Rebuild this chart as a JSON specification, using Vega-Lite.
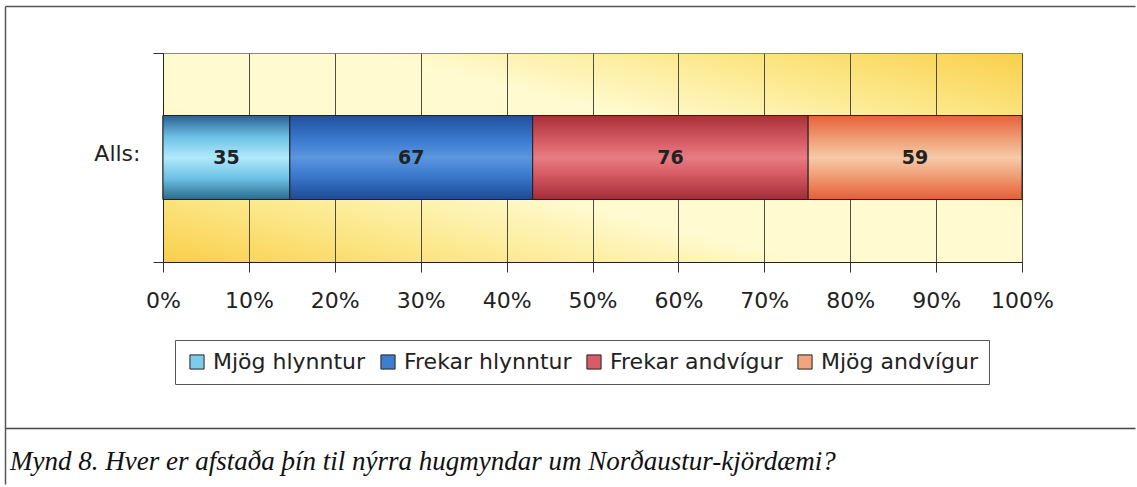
{
  "$schema": "https://vega.github.io/schema/vega-lite/v6.json",
  "padding": {"left": 4, "top": 6, "right": 0, "bottom": 0},
  "background": "white",
  "config": {"font": "DejaVu Sans"},
  "datasets": {
    "answers": [
      {"group": "Alls:", "answer": "Mjög hlynntur", "count": 35, "rank": 1},
      {"group": "Alls:", "answer": "Frekar hlynntur", "count": 67, "rank": 2},
      {"group": "Alls:", "answer": "Frekar andvígur", "count": 76, "rank": 3},
      {"group": "Alls:", "answer": "Mjög andvígur", "count": 59, "rank": 4}
    ],
    "caption": [
      {"text": "Mynd 8. Hver er afstaða þín til nýrra hugmyndar um Norðaustur-kjördæmi?"}
    ]
  },
  "width": 859,
  "height": 209,
  "data": {"name": "answers"},
  "view": {
    "stroke": "#8a8a8a",
    "strokeWidth": 1,
    "fill": {
      "gradient": "linear", "x1": 0, "y1": 1, "x2": 1, "y2": 0,
      "stops": [
        {"offset": 0, "color": "#f9cf4a"},
        {"offset": 0.2, "color": "#fce98e"},
        {"offset": 0.38, "color": "#fffad0"},
        {"offset": 0.62, "color": "#fffad0"},
        {"offset": 0.8, "color": "#fce98e"},
        {"offset": 1, "color": "#f9cf4a"}
      ]
    }
  },
  "resolve": {"scale": {"x": "independent", "y": "independent"}, "axis": {"x": "independent", "y": "independent"}},
  "layer": [
    {
      "encoding": {
        "y": {
          "field": "group", "type": "nominal", "title": null,
          "scale": {"paddingInner": 0, "paddingOuter": 0},
          "axis": {
            "orient": "left",
            "domainColor": "#222", "tickColor": "#333", "tickSize": 10, "tickBand": "extent",
            "labelFontSize": 22, "labelColor": "#222", "labelPadding": 13, "labelOffset": -4,
            "minExtent": 159, "grid": false
          }
        }
      },
      "layer": [
        {
          "mark": {"type": "bar", "size": 84, "stroke": "#222", "strokeWidth": 1},
          "encoding": {
            "x": {
              "field": "count", "type": "quantitative", "stack": "normalize", "title": null,
              "scale": {"domain": [0, 1], "nice": false},
              "axis": {
                "orient": "bottom",
                "values": [0, 0.1, 0.2, 0.3, 0.4, 0.5, 0.6, 0.7, 0.8, 0.9, 1],
                "format": ".0%", "grid": true, "gridColor": "#4d4d40", "gridOpacity": 1,
                "domainColor": "#222", "tickColor": "#333", "tickSize": 10,
                "labelFontSize": 22, "labelColor": "#222", "labelPadding": 18, "labelFlush": false
              }
            },
            "color": {
              "field": "answer", "type": "nominal",
              "scale": {
                "domain": ["Mjög hlynntur", "Frekar hlynntur", "Frekar andvígur", "Mjög andvígur"],
                "range": ["#7dcdea", "#3f7dd0", "#d85c66", "#f2a47c"]
              },
              "legend": {
                "title": null, "orient": "none", "legendX": 12, "legendY": 287,
                "direction": "horizontal",
                "strokeColor": "#555", "fillColor": "white", "padding": 11,
                "labelFontSize": 22, "labelColor": "#222", "labelLimit": 400,
                "symbolType": "square", "symbolSize": 200, "symbolStrokeColor": "#222",
                "symbolStrokeWidth": 1, "symbolOpacity": 1, "columnPadding": 11, "labelOffset": 5
              }
            },
            "order": {"field": "rank", "type": "quantitative"}
          }
        },
        {
          "transform": [
            {"stack": "count", "groupby": ["group"], "sort": [{"field": "rank", "order": "ascending"}], "offset": "normalize", "as": ["x0", "x1"]},
            {"filter": "datum.answer === 'Mjög hlynntur'"}
          ],
          "mark": {"type": "bar", "size": 84, "stroke": "#222", "strokeWidth": 1,
            "fill": {"gradient": "linear", "x1": 0, "y1": 0, "x2": 0, "y2": 1, "stops": [
              {"offset": 0, "color": "#2a5f95"}, {"offset": 0.25, "color": "#6cc0e4"},
              {"offset": 0.5, "color": "#b0eafb"}, {"offset": 0.75, "color": "#6cc0e4"},
              {"offset": 1, "color": "#2a6a8e"}]}},
          "encoding": {
            "x": {"field": "x0", "type": "quantitative", "title": null},
            "x2": {"field": "x1"}
          }
        },
        {
          "transform": [
            {"stack": "count", "groupby": ["group"], "sort": [{"field": "rank", "order": "ascending"}], "offset": "normalize", "as": ["x0", "x1"]},
            {"filter": "datum.answer === 'Frekar hlynntur'"}
          ],
          "mark": {"type": "bar", "size": 84, "stroke": "#222", "strokeWidth": 1,
            "fill": {"gradient": "linear", "x1": 0, "y1": 0, "x2": 0, "y2": 1, "stops": [
              {"offset": 0, "color": "#1f4f9e"}, {"offset": 0.3, "color": "#3d7bd0"},
              {"offset": 0.5, "color": "#5b96de"}, {"offset": 0.7, "color": "#3d7bd0"},
              {"offset": 1, "color": "#1d4a96"}]}},
          "encoding": {
            "x": {"field": "x0", "type": "quantitative", "title": null},
            "x2": {"field": "x1"}
          }
        },
        {
          "transform": [
            {"stack": "count", "groupby": ["group"], "sort": [{"field": "rank", "order": "ascending"}], "offset": "normalize", "as": ["x0", "x1"]},
            {"filter": "datum.answer === 'Frekar andvígur'"}
          ],
          "mark": {"type": "bar", "size": 84, "stroke": "#222", "strokeWidth": 1,
            "fill": {"gradient": "linear", "x1": 0, "y1": 0, "x2": 0, "y2": 1, "stops": [
              {"offset": 0, "color": "#a8303a"}, {"offset": 0.3, "color": "#d65a64"},
              {"offset": 0.5, "color": "#e67d82"}, {"offset": 0.7, "color": "#d65a64"},
              {"offset": 1, "color": "#a32c38"}]}},
          "encoding": {
            "x": {"field": "x0", "type": "quantitative", "title": null},
            "x2": {"field": "x1"}
          }
        },
        {
          "transform": [
            {"stack": "count", "groupby": ["group"], "sort": [{"field": "rank", "order": "ascending"}], "offset": "normalize", "as": ["x0", "x1"]},
            {"filter": "datum.answer === 'Mjög andvígur'"}
          ],
          "mark": {"type": "bar", "size": 84, "stroke": "#222", "strokeWidth": 1,
            "fill": {"gradient": "linear", "x1": 0, "y1": 0, "x2": 0, "y2": 1, "stops": [
              {"offset": 0, "color": "#e8603a"}, {"offset": 0.3, "color": "#f0a27a"},
              {"offset": 0.5, "color": "#f6caa8"}, {"offset": 0.7, "color": "#f0a27a"},
              {"offset": 1, "color": "#e75d35"}]}},
          "encoding": {
            "x": {"field": "x0", "type": "quantitative", "title": null},
            "x2": {"field": "x1"}
          }
        },
        {
          "mark": {"type": "text", "fontSize": 19, "fontWeight": "bold", "color": "#222", "baseline": "middle"},
          "encoding": {
            "x": {"field": "count", "type": "quantitative", "stack": "normalize", "bandPosition": 0.5},
            "detail": {"field": "answer", "type": "nominal"},
            "order": {"field": "rank", "type": "quantitative"},
            "text": {"field": "count", "type": "quantitative"}
          }
        }
      ]
    },
    {
      "layer": [
        {
          "mark": {"type": "point", "opacity": 0},
          "encoding": {
            "x": {"datum": 0.5, "type": "quantitative", "scale": {"domain": [0, 1], "range": [-158, 972]},
              "axis": {"orient": "top", "offset": 47, "ticks": false, "labels": false, "grid": false, "title": null, "domainColor": "#555", "domainWidth": 1.5}},
            "y": {"datum": 0.5, "type": "quantitative", "scale": {"domain": [0, 1], "range": [431, -47]},
              "axis": {"orient": "left", "offset": 158, "ticks": false, "labels": false, "grid": false, "title": null, "domainColor": "#555", "domainWidth": 1.5}}
          }
        },
        {
          "data": {"name": "caption"},
          "mark": {"type": "text", "align": "left", "baseline": "middle", "dx": 5, "font": "Liberation Serif", "fontStyle": "italic", "fontSize": 27, "color": "#111"},
          "encoding": {
            "x": {"datum": 0, "type": "quantitative"},
            "y": {"datum": 0.046, "type": "quantitative"},
            "text": {"field": "text", "type": "nominal"}
          }
        }
      ]
    },
    {
      "mark": {"type": "point", "opacity": 0},
      "encoding": {
        "x": {"datum": 0.5, "type": "quantitative", "scale": {"domain": [0, 1], "range": [-158, 972]},
          "axis": {"orient": "bottom", "offset": 166, "ticks": false, "labels": false, "grid": false, "title": null, "domainColor": "#444", "domainWidth": 1.5}}
      }
    }
  ]
}
